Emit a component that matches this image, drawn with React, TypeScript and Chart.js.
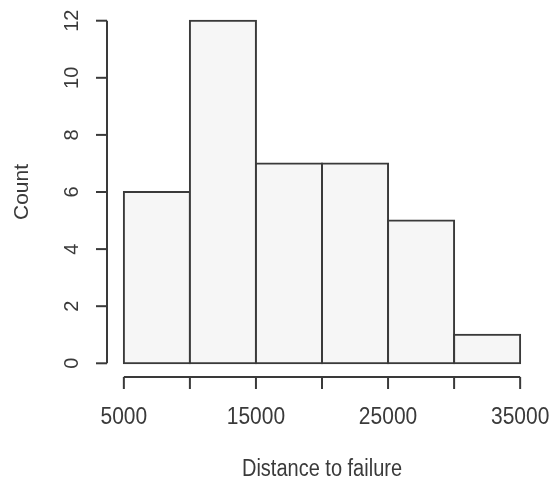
import React, { useEffect, useRef } from "react";
import { Chart, registerables } from "chart.js";

Chart.register(...registerables);

const binStarts = [5000, 10000, 15000, 20000, 25000, 30000];
const binWidth = 5000;
const counts = [6, 12, 7, 7, 5, 1];
const xTicks = [5000, 10000, 15000, 20000, 25000, 30000, 35000];
const xTickLabels = ["5000", "", "15000", "", "25000", "", "35000"];
const yTicks = [0, 2, 4, 6, 8, 10, 12];
const xTitle = "Distance to failure";
const yTitle = "Count";

const INK = "#3a3a3a";
const FONT = '"Liberation Sans", Arial, Helvetica, sans-serif';

const rAxesPlugin = {
  id: "rAxes",
  afterDraw(chart: any) {
    const ctx = chart.ctx as CanvasRenderingContext2D;
    const xs = chart.scales.x;
    const ys = chart.scales.y;
    const ca = chart.chartArea;
    ctx.save();
    ctx.strokeStyle = INK;
    ctx.fillStyle = INK;
    ctx.lineWidth = 2;
    ctx.lineCap = "butt";

    // y axis
    const yAxisX = ca.left - 1;
    ctx.beginPath();
    ctx.moveTo(yAxisX, ys.getPixelForValue(yTicks[0]));
    ctx.lineTo(yAxisX, ys.getPixelForValue(yTicks[yTicks.length - 1]));
    ctx.stroke();
    ctx.font = `20px ${FONT}`;
    ctx.textAlign = "center";
    ctx.textBaseline = "alphabetic";
    for (const t of yTicks) {
      const py = ys.getPixelForValue(t);
      ctx.beginPath();
      ctx.moveTo(yAxisX, py);
      ctx.lineTo(yAxisX - 11, py);
      ctx.stroke();
      ctx.save();
      ctx.translate(78, py);
      ctx.rotate(-Math.PI / 2);
      ctx.fillText(String(t), 0, 0);
      ctx.restore();
    }

    // x axis
    const xAxisY = ca.bottom;
    ctx.beginPath();
    ctx.moveTo(xs.getPixelForValue(xTicks[0]), xAxisY);
    ctx.lineTo(xs.getPixelForValue(xTicks[xTicks.length - 1]), xAxisY);
    ctx.stroke();
    xTicks.forEach((t, i) => {
      const px = xs.getPixelForValue(t);
      ctx.beginPath();
      ctx.moveTo(px, xAxisY);
      ctx.lineTo(px, xAxisY + 12);
      ctx.stroke();
      const lbl = xTickLabels[i];
      if (lbl) {
        ctx.save();
        ctx.translate(px, 424);
        ctx.scale(1.05, 1.2);
        ctx.font = `20px ${FONT}`;
        ctx.fillText(lbl, 0, 0);
        ctx.restore();
      }
    });

    // titles
    ctx.save();
    ctx.translate((ca.left + ca.right) / 2, 476);
    ctx.scale(1, 1.15);
    ctx.font = `20px ${FONT}`;
    ctx.fillText(xTitle, 0, 0);
    ctx.restore();

    ctx.save();
    ctx.translate(28, (ca.top + ca.bottom) / 2);
    ctx.rotate(-Math.PI / 2);
    ctx.font = `21px ${FONT}`;
    ctx.fillText(yTitle, 0, 0);
    ctx.restore();

    ctx.restore();
  },
};

export default function App() {
  const ref = useRef<HTMLCanvasElement | null>(null);

  useEffect(() => {
    if (!ref.current) return;
    const data = binStarts.map((s, i) => ({ x: s + binWidth / 2, y: counts[i] }));
    const xMin = xTicks[0];
    const xMax = xTicks[xTicks.length - 1];
    const xPad = (xMax - xMin) * 0.04;
    const yMax = yTicks[yTicks.length - 1];
    const yPad = yMax * 0.04;
    const chart = new Chart(ref.current, {
      type: "bar",
      data: {
        datasets: [
          {
            data: data as any,
            backgroundColor: "#f6f6f6",
            borderColor: INK,
            borderWidth: 2,
            borderSkipped: false,
            inflateAmount: 1,
            barPercentage: 1,
            categoryPercentage: 1,
          } as any,
        ],
      },
      options: {
        animation: false,
        responsive: false,
        devicePixelRatio: 1,
        layout: { padding: { left: 108, right: 17, top: 7, bottom: 103 } },
        plugins: { legend: { display: false }, tooltip: { enabled: false } },
        scales: {
          x: { type: "linear", offset: false, min: xMin - xPad, max: xMax + xPad, display: false },
          y: { type: "linear", min: -yPad, max: yMax + yPad, display: false },
        },
      },
      plugins: [rAxesPlugin],
    });
    return () => chart.destroy();
  }, []);

  return (
    <div style={{ position: "absolute", left: 0, top: 0, width: 553, height: 480, background: "#fff" }}>
      <canvas ref={ref} width={553} height={480} style={{ display: "block" }} />
    </div>
  );
}
